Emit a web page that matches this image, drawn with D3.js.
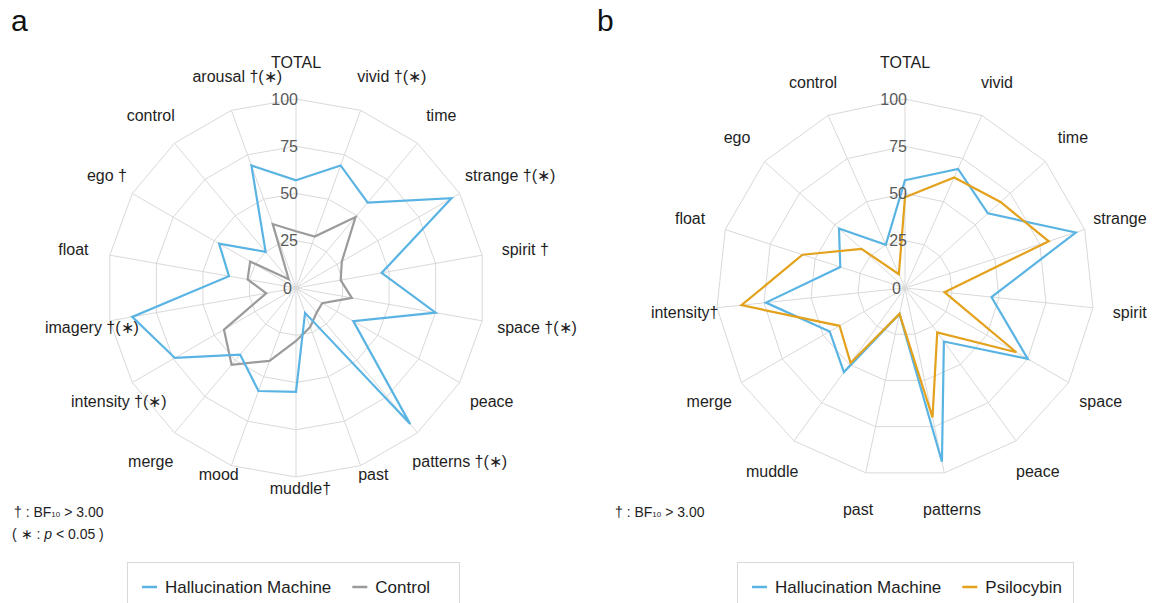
<!DOCTYPE html>
<html>
<head>
<meta charset="utf-8">
<script src="https://cdn.jsdelivr.net/npm/d3@7"></script>
<style>
  body { margin: 0; background: #fff; }
  svg { display: block; }
  text { font-family: "Liberation Sans", Arial, sans-serif; }
</style>
</head>
<body>
<svg id="chart" width="1152" height="603"></svg>
<script>
// panel a
const axesA = ["TOTAL", "vivid", "time", "strange", "spirit", "space", "peace", "patterns",
  "past", "muddle", "mood", "merge", "intensity", "imagery", "float", "ego", "control", "arousal"];
const marksA = ["", " †(∗)", "", " †(∗)", " †", " †(∗)", "", " †(∗)", "", "†", "", "",
  " †(∗)", " †(∗)", "", " †", "", " †(∗)"];
const hmA = [57, 69, 59, 95, 46, 75, 35, 94, 14, 55, 58, 46, 74, 88, 36, 47, 25, 69];
const controlA = [30, 29, 49, 28, 24, 30, 16, 17, 22, 28, 41, 53, 44, 16, 26, 28, 6, 36];

// panel b
const axesB = ["TOTAL", "vivid", "time", "strange", "spirit", "space", "peace", "patterns",
  "past", "muddle", "merge", "intensity", "float", "ego", "control"];
const marksB = ["", "", "", "", "", "", "", "", "", "", "", "†", "", "", ""];
const hmB = [57, 69, 59, 95, 46, 75, 35, 94, 14, 55, 46, 74, 36, 47, 25];
const psiB = [48, 64, 68, 80, 21, 68, 29, 70, 14, 49, 40, 87, 57, 31, 8];

const ticks = [0, 25, 50, 75, 100];

const BLUE = "#5ab4e3";
const GREY = "#9b9b9b";
const ORANGE = "#e3a11c";
const GRID = "#d9d9d9";

const svg = d3.select("#chart");
const r = d3.scaleLinear().domain([0, 100]).range([0, 189]);
const labelRadius = 226;

function drawRadar(cx, cy, axes, marks, series, bottomLift) {
  const g = svg.append("g").attr("transform", `translate(${cx},${cy})`);
  const n = axes.length;
  const angle = i => i * 2 * Math.PI / n;

  const ring = d3.lineRadial()
    .angle((d, i) => angle(i))
    .radius(d => r(d))
    .curve(d3.curveLinearClosed);

  ticks.filter(t => t > 0).forEach(t => {
    g.append("path")
      .attr("d", ring(axes.map(() => t)))
      .attr("fill", "none")
      .attr("stroke", GRID)
      .attr("stroke-width", 1);
  });

  g.selectAll(".spoke").data(axes).join("line")
    .attr("x1", 0).attr("y1", 0)
    .attr("x2", (d, i) => r(100) * Math.sin(angle(i)))
    .attr("y2", (d, i) => -r(100) * Math.cos(angle(i)))
    .attr("stroke", GRID)
    .attr("stroke-width", 1);

  series.forEach(s => {
    g.append("path")
      .attr("d", ring(s.values))
      .attr("fill", "none")
      .attr("stroke", s.color)
      .attr("stroke-width", 2.2);
  });

  g.selectAll(".tick").data(ticks).join("text")
    .attr("x", d => d === 0 ? -4 : 2)
    .attr("y", d => -r(d))
    .attr("text-anchor", "end")
    .attr("dominant-baseline", "central")
    .attr("fill", "#595959")
    .style("font-size", "16px")
    .text(d => d);

  // axis labels: word centred on the label point, markers trail after it.
  // the bottom-most labels of panel a are lifted up a bit
  axes.forEach((name, i) => {
    const a = angle(i);
    const lift = Math.cos(a) < -0.9 ? bottomLift : 0;
    const t = g.append("text")
      .attr("y", -labelRadius * Math.cos(a) - lift)
      .attr("dominant-baseline", "central")
      .attr("fill", "#1e1e1e")
      .style("font-size", "16px");
    const word = t.append("tspan").text(name);
    const w = word.node().getComputedTextLength();
    if (marks[i]) t.append("tspan").text(marks[i]);
    t.attr("x", labelRadius * Math.sin(a) - w / 2);
  });
}

function drawLegend(x, y, w, items) {
  const g = svg.append("g").attr("transform", `translate(${x},${y})`);
  g.append("rect")
    .attr("x", 0.5).attr("y", 0.5)
    .attr("width", w).attr("height", 60)
    .attr("fill", "#fff")
    .attr("stroke", GRID);
  let cur = 15;
  items.forEach(it => {
    g.append("line")
      .attr("x1", cur).attr("x2", cur + 15)
      .attr("y1", 25).attr("y2", 25)
      .attr("stroke", it.color)
      .attr("stroke-width", 2.5);
    const t = g.append("text")
      .attr("x", cur + 23).attr("y", 25)
      .attr("dominant-baseline", "central")
      .attr("fill", "#1e1e1e")
      .style("font-size", "17px")
      .text(it.name);
    cur += 23 + t.node().getComputedTextLength() + 21;
  });
}

function drawNote(x, y, withP) {
  const t = svg.append("text")
    .attr("x", x).attr("y", y)
    .attr("fill", "#1e1e1e")
    .style("font-size", "14px");
  t.append("tspan").text("† : BF");
  t.append("tspan").style("font-size", "8px").text("10");
  t.append("tspan").text(" > 3.00");
  if (withP) {
    const p = svg.append("text")
      .attr("x", x - 2).attr("y", y + 22)
      .attr("fill", "#1e1e1e")
      .style("font-size", "14px");
    p.append("tspan").text("( ∗ : ");
    p.append("tspan").style("font-style", "italic").text("p");
    p.append("tspan").text(" < 0.05 )");
  }
}

svg.append("text").attr("x", 11).attr("y", 31)
  .style("font-size", "30px").attr("fill", "#111").text("a");
svg.append("text").attr("x", 597).attr("y", 31)
  .style("font-size", "30px").attr("fill", "#111").text("b");

drawRadar(296, 288, axesA, marksA, [
  { values: controlA, color: GREY },
  { values: hmA, color: BLUE }
], 26);
drawRadar(905, 288, axesB, marksB, [
  { values: hmB, color: BLUE },
  { values: psiB, color: ORANGE }
], 0);

drawNote(14, 517, true);
drawNote(615, 517, false);

drawLegend(127, 562, 332, [
  { name: "Hallucination Machine", color: BLUE },
  { name: "Control", color: GREY }
]);
drawLegend(737, 562, 336, [
  { name: "Hallucination Machine", color: BLUE },
  { name: "Psilocybin", color: ORANGE }
]);
</script>
</body>
</html>
